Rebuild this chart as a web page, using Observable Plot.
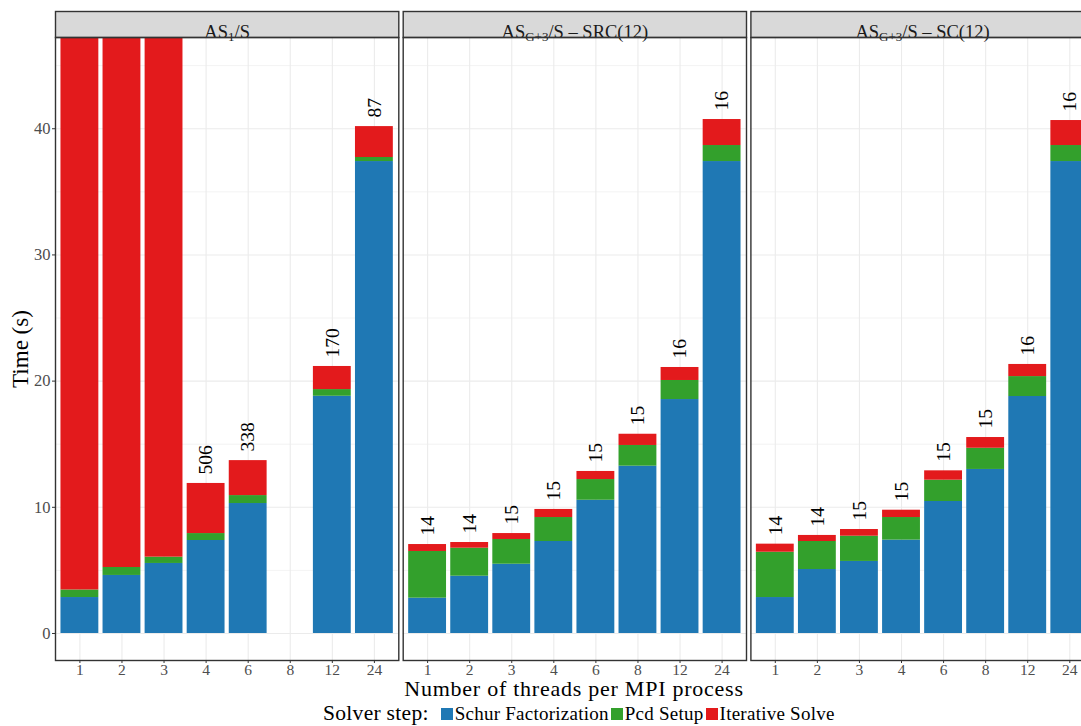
<!DOCTYPE html>
<html>
<head>
<meta charset="utf-8">
<script src="https://cdn.jsdelivr.net/npm/d3@7"></script>
<script src="https://cdn.jsdelivr.net/npm/@observablehq/plot@0.6"></script>
<style>
  body { margin: 0; background: #fff; font-family: "Liberation Serif", serif; color: #000; }
  #wrap { position: relative; width: 1081px; height: 726px; overflow: hidden; }
  #chart svg { display: block; font-family: "Liberation Serif", serif !important; }
  #chart svg text { font-family: "Liberation Serif", serif !important; }
  #ytitle { position: absolute; left: 21px; top: 349px; transform: translate(-50%, -50%) rotate(-90deg); font-size: 23px; white-space: nowrap; line-height: 1.107; }
  #xtitle { position: absolute; left: 574px; top: 677.4px; transform: translateX(-50%); font-size: 22px; letter-spacing: 0.75px; white-space: nowrap; line-height: 1.107; }
  #legend { position: absolute; left: 323px; top: 702.3px; display: flex; align-items: baseline; white-space: nowrap; line-height: 1.107; }
  #legend .ttl { font-size: 21.5px; margin-right: 12px; letter-spacing: 0.3px; }
  #legend .sw { display: inline-block; width: 12px; height: 12px; margin-right: 2px; }
  #legend .lb { font-size: 19px; margin-right: 2px; letter-spacing: 0.25px; }
</style>
</head>
<body>
<div id="wrap">
  <div id="chart"></div>
  <div id="ytitle">Time (s)</div>
  <div id="xtitle">Number of threads per MPI process</div>
  <div id="legend"></div>
</div>
<script>
// ---- data ----
const panels = ["AS1", "SRC", "SC"];
const panelLabels = ["AS_{1}/S", "AS_{G+3}/S – SRC(12)", "AS_{G+3}/S – SC(12)"];
const threads = ["1", "2", "3", "4", "6", "8", "12", "24"];
const steps = ["Schur Factorization", "Pcd Setup", "Iterative Solve"];
const stepColors = ["#1f78b4", "#33a02c", "#e31a1c"];
const yTicks = [0, 10, 20, 30, 40];
const yMinor = [5, 15, 25, 35, 45];

const as1Threads = ["1", "2", "3", "4", "6", "12", "24"];
const as1Schur = [2.85, 4.6, 5.55, 7.37, 10.3, 18.8, 37.4];
const as1Pcd = [0.6, 0.63, 0.5, 0.55, 0.63, 0.53, 0.32];
const as1Solve = [70, 65, 60, 3.97, 2.77, 1.83, 2.45];
const as1Iters = [null, null, null, 506, 338, 170, 87];

const srcThreads = ["1", "2", "3", "4", "6", "8", "12", "24"];
const srcSchur = [2.8, 4.54, 5.49, 7.29, 10.56, 13.26, 18.54, 37.4];
const srcPcd = [3.7, 2.22, 1.96, 1.9, 1.64, 1.64, 1.51, 1.27];
const srcSolve = [0.55, 0.45, 0.47, 0.64, 0.64, 0.89, 1.03, 2.06];
const srcIters = [14, 14, 15, 15, 15, 15, 16, 16];

const scThreads = ["1", "2", "3", "4", "6", "8", "12", "24"];
const scSchur = [2.85, 5.07, 5.71, 7.4, 10.46, 13.0, 18.78, 37.4];
const scPcd = [3.59, 2.22, 2.0, 1.79, 1.69, 1.68, 1.58, 1.27];
const scSolve = [0.64, 0.48, 0.53, 0.58, 0.74, 0.85, 0.96, 1.98];
const scIters = [14, 14, 15, 15, 15, 15, 16, 16];

// ---- tables ----
const bars = [];
const labels = [];
function addPanel(panel, th, schur, pcd, solve, iters) {
  th.forEach((t, i) => {
    [schur[i], pcd[i], solve[i]].forEach((v, k) => bars.push({panel, threads: t, step: steps[k], value: v}));
    if (iters[i] != null) labels.push({panel, threads: t, total: schur[i] + pcd[i] + solve[i], text: String(iters[i])});
  });
}
addPanel("AS1", as1Threads, as1Schur, as1Pcd, as1Solve, as1Iters);
addPanel("SRC", srcThreads, srcSchur, srcPcd, srcSolve, srcIters);
addPanel("SC", scThreads, scSchur, scPcd, scSolve, scIters);

function subscriptRender(index, scales, values, dims, ctx, next) {
  const g = next(index, scales, values, dims, ctx);
  const ns = "http://www.w3.org/2000/svg";
  for (const t of g.querySelectorAll("text")) {
    const s = t.textContent;
    t.textContent = "";
    const re = /_\{([^}]*)\}/g;
    let last = 0, m, shifted = false;
    const add = (str, sub) => {
      const sp = document.createElementNS(ns, "tspan");
      sp.textContent = str;
      if (sub) { sp.setAttribute("font-size", "13px"); sp.setAttribute("dy", "3.5"); shifted = true; }
      else if (shifted) { sp.setAttribute("dy", "-3.5"); shifted = false; }
      t.appendChild(sp);
    };
    while ((m = re.exec(s))) {
      if (m.index > last) add(s.slice(last, m.index), false);
      add(m[1], true);
      last = re.lastIndex;
    }
    if (last < s.length) add(s.slice(last), false);
  }
  return g;
}

const font = "'Liberation Serif', serif";
const chart = Plot.plot({
  width: 1081,
  height: 682,
  marginLeft: 55,
  marginRight: 0,
  marginTop: 37,
  marginBottom: 22,
  style: {fontFamily: font, background: "white", overflow: "hidden"},
  fx: {domain: panels, range: [55, 1093.7], paddingInner: 4.4 / 347.7, paddingOuter: 0, round: false, axis: null},
  x: {domain: threads, paddingInner: 0.1, paddingOuter: 0.13, round: false, axis: null},
  y: {domain: [-2.14, 47.23], axis: null},
  color: {domain: steps, range: stepColors},
  marks: [
    Plot.gridY(yMinor, {stroke: "#ebebeb", strokeOpacity: 1, strokeWidth: 0.6}),
    Plot.gridY(yTicks, {stroke: "#ebebeb", strokeOpacity: 1, strokeWidth: 1.1}),
    Plot.gridX(threads, {stroke: "#ebebeb", strokeOpacity: 1, strokeWidth: 1.1}),
    Plot.barY(bars, {fx: "panel", x: "threads", y: "value", fill: "step", order: steps, clip: "frame"}),
    Plot.text(labels, {fx: "panel", x: "threads", y: "total", text: "text", rotate: -90, textAnchor: "start", dy: -9, fontSize: 19.5, fontFamily: font, fill: "#000", clip: "frame"}),
    Plot.axisX({tickSize: 3, tickPadding: 0, fontSize: 15.5, fontFamily: font, color: "#4d4d4d", stroke: "#333", label: null}),
    Plot.axisY(yTicks, {tickSize: 3, tickPadding: 2, fontSize: 16.5, fontFamily: font, color: "#4d4d4d", stroke: "#333", label: null}),
    Plot.frame({fill: "#d9d9d9", stroke: "#333", strokeWidth: 1.4, insetTop: -26, insetBottom: 623}),
    Plot.text(panels, {fx: d => d, text: (d, i) => panelLabels[i], frameAnchor: "top", dy: -13, fontSize: 18.5, fontFamily: font, fill: "#1a1a1a", render: subscriptRender}),
    Plot.frame({stroke: "#333", strokeWidth: 1.4})
  ]
});
document.getElementById("chart").appendChild(chart);

// legend
const leg = document.getElementById("legend");
const ttl = document.createElement("span");
ttl.className = "ttl"; ttl.textContent = "Solver step:";
leg.appendChild(ttl);
steps.forEach((s, i) => {
  const sw = document.createElement("span");
  sw.className = "sw"; sw.style.background = stepColors[i];
  const lb = document.createElement("span");
  lb.className = "lb"; lb.textContent = s;
  leg.appendChild(sw); leg.appendChild(lb);
});
</script>
</body>
</html>
